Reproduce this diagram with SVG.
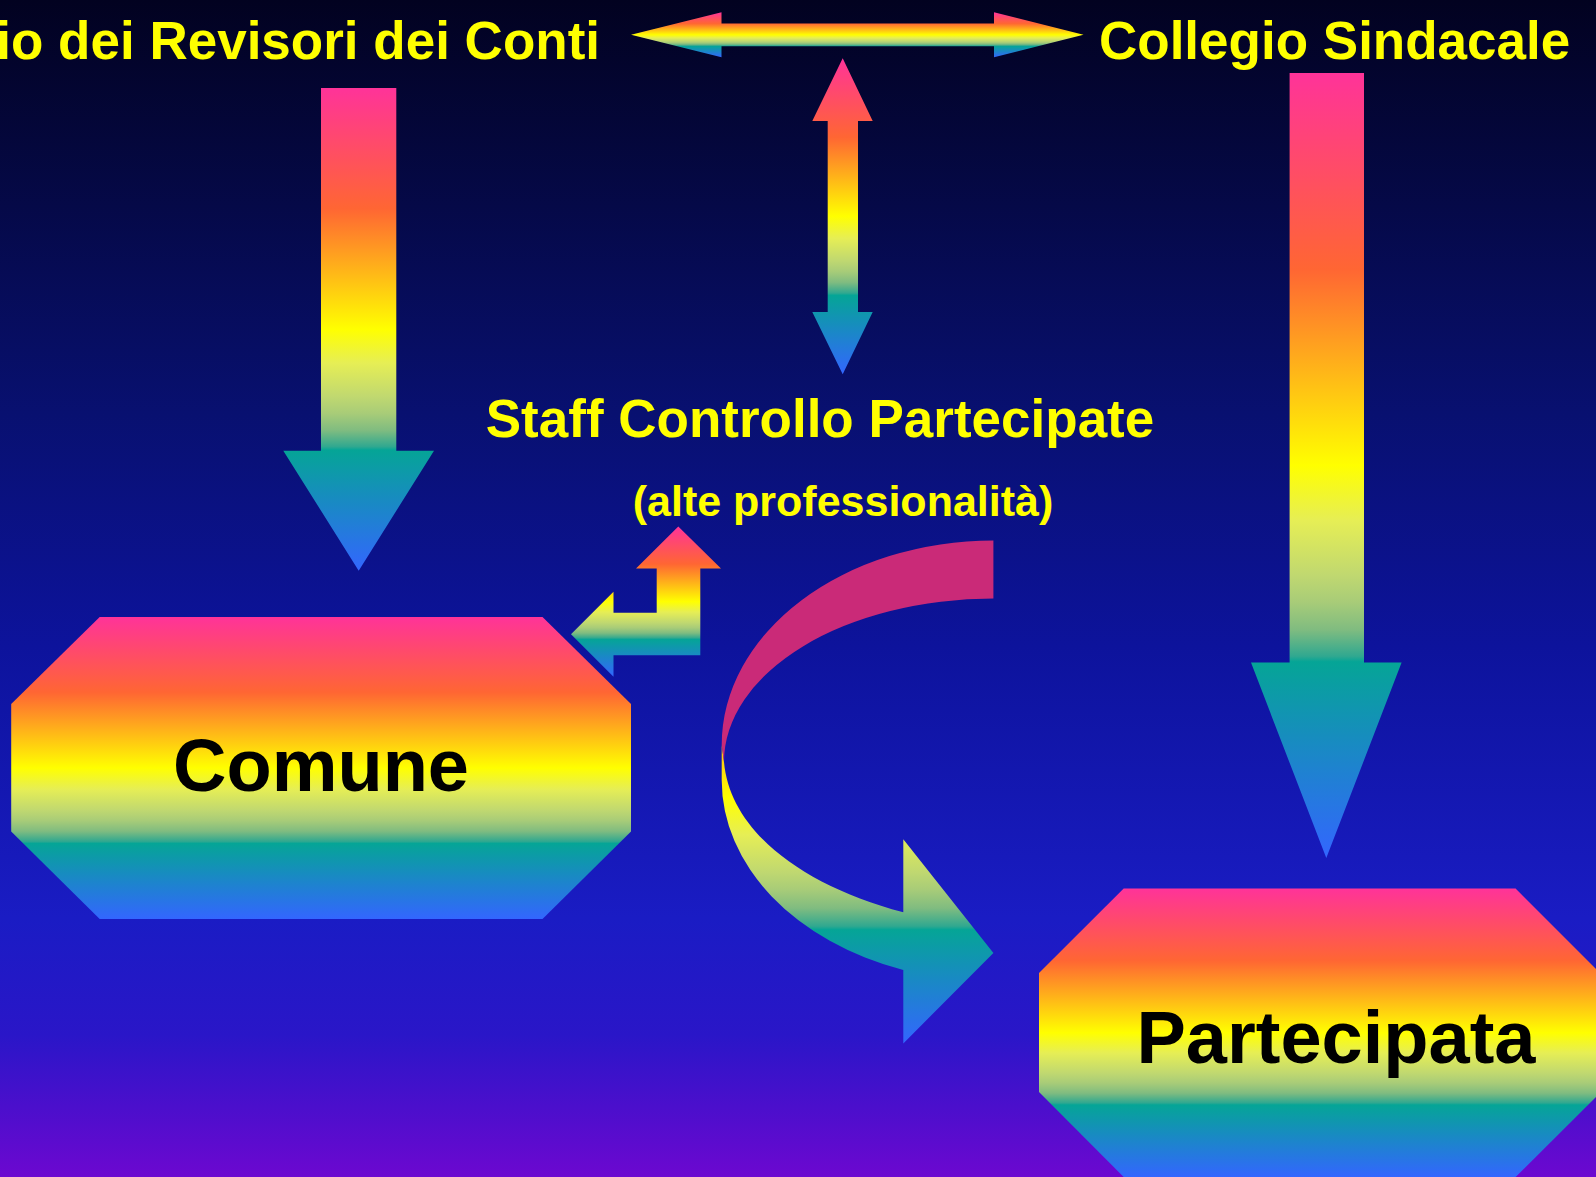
<svg xmlns="http://www.w3.org/2000/svg" width="1596" height="1177" viewBox="0 0 1596 1177">
  <defs>
    <linearGradient id="bg" x1="0" y1="0" x2="0" y2="1">
      <stop offset="0" stop-color="#020220"/>
      <stop offset="0.35" stop-color="#081070"/>
      <stop offset="0.55" stop-color="#0d139c"/>
      <stop offset="0.78" stop-color="#1a1cc4"/>
      <stop offset="0.88" stop-color="#2a16c8"/>
      <stop offset="1" stop-color="#6c08d0"/>
    </linearGradient>
    <linearGradient id="rb" x1="0" y1="0" x2="0" y2="1">
      <stop offset="0" stop-color="#FF3399"/>
      <stop offset="0.25" stop-color="#FF6633"/>
      <stop offset="0.5" stop-color="#FFFF00"/>
      <stop offset="0.57" stop-color="#E6EE55"/>
      <stop offset="0.64" stop-color="#C0D870"/>
      <stop offset="0.674" stop-color="#A8CC78"/>
      <stop offset="0.709" stop-color="#80BC80"/>
      <stop offset="0.743" stop-color="#30A890"/>
      <stop offset="0.75" stop-color="#05A596"/>
      <stop offset="1" stop-color="#3366FF"/>
    </linearGradient>
    <linearGradient id="rbCurve" gradientUnits="userSpaceOnUse" x1="0" y1="540.5" x2="0" y2="1043.4">
      <stop offset="0" stop-color="#FF3399"/>
      <stop offset="0.26" stop-color="#FF6633"/>
      <stop offset="0.512" stop-color="#FFFF00"/>
      <stop offset="0.585" stop-color="#E6EE55"/>
      <stop offset="0.659" stop-color="#C0D870"/>
      <stop offset="0.694" stop-color="#A8CC78"/>
      <stop offset="0.731" stop-color="#80BC80"/>
      <stop offset="0.767" stop-color="#30A890"/>
      <stop offset="0.774" stop-color="#05A596"/>
      <stop offset="1" stop-color="#3366FF"/>
    </linearGradient>
  </defs>
  <style>
    .lbl { font-family: "Liberation Sans", Arial, sans-serif; font-weight: bold; fill: #FFFF00; }
    .big { font-family: "Liberation Sans", Arial, sans-serif; font-weight: bold; fill: #000000; font-size: 74px; }
    .rb { fill: url(#rb); }
  </style>
  <rect x="0" y="0" width="1596" height="1177" fill="url(#bg)"/>

  <g id="connectors">
    <polygon class="rb" points="631,34.8 721.5,12.3 721.5,23.6 994,23.6 994,12.3 1083.5,34.8 994,57.3 994,46.2 721.5,46.2 721.5,57.3"/>
    <polygon class="rb" points="842.7,58.3 872.7,121 858,121 858,312 872.7,312 842.7,374.3 812.3,312 827.7,312 827.7,121 812.3,121"/>
    <polygon class="rb" points="321,88 396.3,88 396.3,450.7 434,450.7 358.7,570.7 283.3,450.7 321,450.7"/>
    <polygon class="rb" points="1289.6,73 1364,73 1364,662.6 1401.6,662.6 1326.3,858 1251,662.6 1289.6,662.6"/>
    <polygon class="rb" points="678.3,526.5 721,568.5 700.3,568.5 700.3,655.3 613.5,655.3 613.5,676.7 571,634.3 613.5,591.7 613.5,612.7 656.7,612.7 656.7,568.5 636,568.5"/>
    <path fill="url(#rbCurve)" d="M 721.7 745 L 721.7 780 A 271.7 201.4 0 0 0 903.3 970 L 903.3 1043.4 L 993.4 953 L 903.3 839.3 L 903.3 912.3 C 800 885 730 830 724 762 Z"/>
    <path fill="#CA2A78" d="M 993.4 540.5 A 271.7 204.5 0 0 0 721.7 745 L 724 762 A 269.4 163.5 0 0 1 993.4 598.5 Z"/>
  </g>

  <g id="node-revisori">
    <text class="lbl" x="600" y="58.5" font-size="53" text-anchor="end">io dei Revisori dei Conti</text>
  </g>
  <g id="node-collegio">
    <text class="lbl" x="1099" y="58.5" font-size="53">Collegio Sindacale</text>
  </g>
  <g id="node-staff">
    <text class="lbl" x="820" y="437" font-size="53" text-anchor="middle">Staff Controllo Partecipate</text>
    <text class="lbl" x="843" y="516" font-size="43" text-anchor="middle">(alte professionalità)</text>
  </g>
  <g id="node-comune">
    <polygon class="rb" points="99.7,617 542.5,617 631,704 631,831.6 542.5,919 99.7,919 11.2,831.6 11.2,704"/>
    <text class="big" x="321" y="791" text-anchor="middle">Comune</text>
  </g>
  <g id="node-partecipata">
    <polygon class="rb" points="1123.7,888.6 1515.6,888.6 1600,973 1600,1093 1515.6,1177 1123.7,1177 1039,1092 1039,973"/>
    <text class="big" x="1336" y="1063" text-anchor="middle">Partecipata</text>
  </g>
</svg>
